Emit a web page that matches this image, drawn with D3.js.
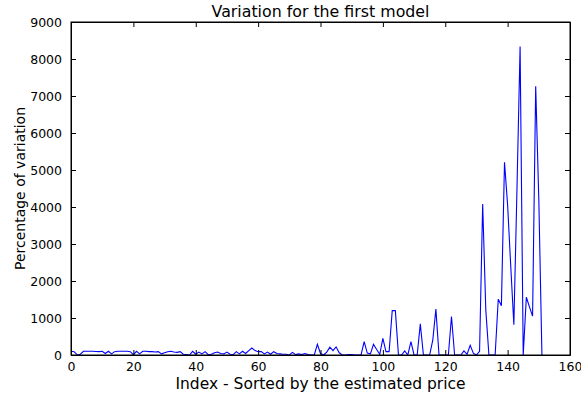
<!DOCTYPE html>
<html><head><meta charset="utf-8">
<script src="https://cdn.jsdelivr.net/npm/d3@7"></script>
<style>body{margin:0;background:#fff}svg{display:block}text{font-family:"DejaVu Sans",sans-serif;fill:#000}</style>
</head><body><svg id="c" width="581" height="395"></svg>
<script>
const title = "Variation for the first model";
const xLabel = "Index - Sorted by the estimated price";
const yLabel = "Percentage of variation";
const xTicks = [0,20,40,60,80,100,120,140,160];
const yTicks = [0,1000,2000,3000,4000,5000,6000,7000,8000,9000];
const values = [
100,90,0,20,100,100,100,100,95,90,
100,40,100,30,90,100,100,100,100,90,
10,100,30,100,100,90,90,80,90,30,
60,90,100,80,70,90,20,10,0,100,
20,80,30,90,10,20,60,80,40,30,
80,20,10,90,30,100,40,120,190,120,
90,90,30,80,20,90,40,30,20,20,
0,70,10,30,10,40,10,0,0,290,
40,0,80,210,120,220,60,0,0,10,
10,0,0,0,360,50,30,290,150,20,
450,90,90,1200,1200,0,0,110,0,360,
0,0,840,0,0,0,400,1240,0,0,
0,0,1040,0,0,0,110,20,260,50,
0,100,4080,1220,0,0,0,1510,1330,5210,
4050,2400,820,4500,8340,0,1560,1300,1050,7260,
4200,0];

const svg = d3.select("#c");
const m = {l:71, r:11, t:22, b:40};
const W = 581, H = 395;
const x = d3.scaleLinear().domain([0,160]).range([m.l, W-m.r]);
const y = d3.scaleLinear().domain([0,9000]).range([H-m.b, m.t]);

const line = d3.line().x((d,i)=>x(i)).y(d=>y(d));
svg.append("path").datum(values).attr("d", line)
  .attr("fill","none").attr("stroke","#0000ff").attr("stroke-width",1.1);

const tl = 5;
const fmt = d3.format("d");
const gB = svg.append("g").attr("transform",`translate(0,${H-m.b})`)
  .call(d3.axisBottom(x).tickValues(xTicks).tickSizeInner(-tl).tickSizeOuter(0).tickPadding(8).tickFormat(fmt));
const gT = svg.append("g").attr("transform",`translate(0,${m.t})`)
  .call(d3.axisTop(x).tickValues(xTicks).tickSizeInner(-tl).tickSizeOuter(0).tickFormat(""));
const gL = svg.append("g").attr("transform",`translate(${m.l},0)`)
  .call(d3.axisLeft(y).tickValues(yTicks).tickSizeInner(-tl).tickSizeOuter(0).tickPadding(9).tickFormat(fmt));
const gR = svg.append("g").attr("transform",`translate(${W-m.r},0)`)
  .call(d3.axisRight(y).tickValues(yTicks).tickSizeInner(-tl).tickSizeOuter(0).tickFormat(""));
[gB,gT,gL,gR].forEach(g=>{
  g.selectAll("path.domain").attr("stroke","#000").attr("stroke-width",1);
  g.selectAll("line").attr("stroke","#000");
  g.selectAll("text").attr("font-size","12.5px").attr("font-family","DejaVu Sans").attr("fill","#000");
});
gB.selectAll("text").attr("dy","0.6em");
svg.append("rect").attr("x",m.l).attr("y",m.t).attr("width",W-m.r-m.l).attr("height",H-m.b-m.t)
  .attr("fill","none").attr("stroke","#000").attr("stroke-width",1);

svg.append("text").attr("x",(m.l+W-m.r)/2).attr("y",17).attr("text-anchor","middle")
  .attr("font-size","15.8px").text(title);
svg.append("text").attr("x",(m.l+W-m.r)/2).attr("y",389).attr("text-anchor","middle")
  .attr("font-size","15.5px").text(xLabel);
svg.append("text").attr("transform",`translate(25,${(m.t+H-m.b)/2}) rotate(-90)`).attr("text-anchor","middle")
  .attr("font-size","14px").text(yLabel);
</script></body></html>
